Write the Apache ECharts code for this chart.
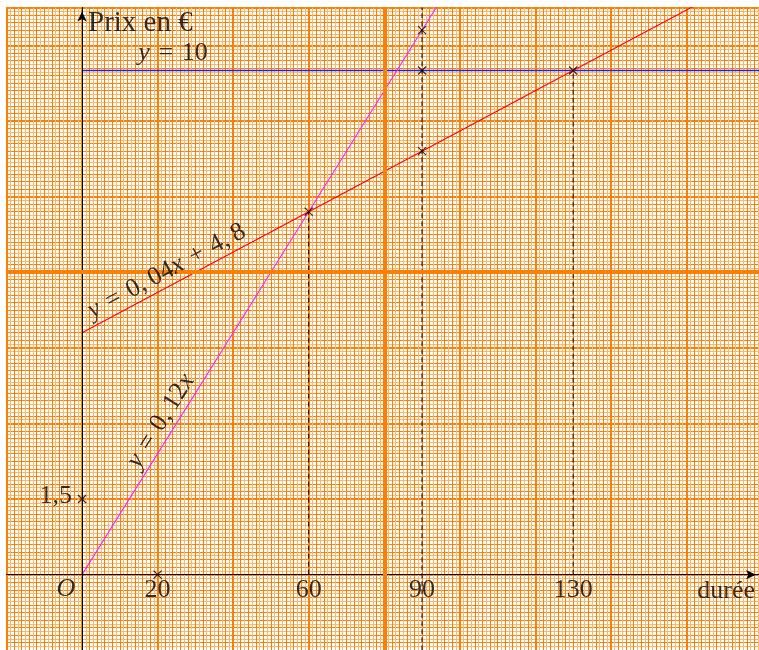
<!DOCTYPE html>
<html>
<head>
<meta charset="utf-8">
<script src="https://cdn.jsdelivr.net/npm/echarts@6/dist/echarts.min.js"></script>
<style>
  html, body { margin: 0; padding: 0; background: #fff; }
  #main { width: 759px; height: 650px; }
</style>
</head>
<body>
<div id="main"></div>
<script>
// durée (minutes) -> prix en euros
let dureesB = [0, 60, 90, 130, 180];
let tarifB = [4.8, 7.2, 8.4, 10, 12];       // y = 0,04x + 4,8
let dureesA = [0, 60, 90, 100];
let tarifA = [0, 7.2, 10.8, 12];            // y = 0,12x
let dureesC = [0, 180];
let tarifC = [10, 10];                      // y = 10

// points marqués (croix)
let pointsX = [60, 90, 90, 90, 130, 0, 20];
let pointsY = [7.2, 10.8, 10, 8.4, 10, 1.5, 0];

// pointillés verticaux : x, y bas, y haut
let pointillesX = [60, 90, 130];
let pointillesBas = [0, -1.5, 0];
let pointillesHaut = [7.2, 11.25, 10];

// graduations écrites
let xLabels = [20, 60, 90, 130];
let yLabels = [1.5];

let font = "Liberation Serif";
let fs = 26;
let sp = "\u2004"; // espace autour de = et +
let xMin = -20, xMax = 180, yMin = -1.5, yMax = 11.25;

let myChart = echarts.init(document.getElementById("main"));

function zip(a, b) {
  return a.map((v, i) => [v, b[i]]);
}

// axes cachés qui ne servent qu'au papier millimétré
function gridAxis(min, max, interval, color, width, minor) {
  let ax = {
    type: "value",
    min: min,
    max: max,
    interval: interval,
    z: 0,
    axisLine: { show: false },
    axisTick: { show: false },
    axisLabel: { show: false },
    splitLine: { show: true, lineStyle: { color: color, width: width } }
  };
  if (minor) {
    ax.minorTick = { show: false, splitNumber: 2 };
    ax.minorSplitLine = { show: true, lineStyle: { color: minor, width: 1 } };
  }
  return ax;
}

function mainAxis(min, max, offset) {
  return {
    type: "value",
    min: min,
    max: max,
    z: 4,
    axisLine: {
      show: true,
      onZero: true,
      onZeroAxisIndex: 0,
      symbol: ["none", "arrow"],
      symbolSize: [7, 10],
      symbolOffset: [0, offset],
      lineStyle: { color: "#000", width: 1 }
    },
    axisTick: { show: false },
    axisLabel: { show: false },
    splitLine: { show: false }
  };
}

let dashed = pointillesX.map((x, i) => ({
  type: "line",
  data: [[x, pointillesBas[i]], [x, pointillesHaut[i]]],
  symbol: "none",
  z: 3,
  silent: true,
  lineStyle: { color: "#000", width: 1, type: [5, 3] }
}));

let texts = [
  { value: [1.58, 10.93], label: { formatter: "Prix en €", align: "left", fontSize: 29 } },
  { value: [24.1, 10.34], label: { formatter: "{i|y}" + sp + "=" + sp + "10" } },
  { value: [170.5, -0.335], label: { formatter: "durée" } },
  { value: [-4.25, -0.28], label: { formatter: "{i|O}" } },
  {
    value: [22.4, 6.02],
    label: { formatter: "{i|y}" + sp + "=" + sp + "0,\u200904{i|x}" + sp + "+" + sp + "4,\u20098", rotate: 28.1 }
  },
  { value: [20.9, 3.05], label: { formatter: "{i|y}" + sp + "=" + sp + "0,\u200912{i|x}", rotate: 58 } }
];
xLabels.forEach(v => {
  texts.push({ value: [v, 0], label: { formatter: String(v), offset: [0, 16] } });
});
yLabels.forEach(v => {
  texts.push({
    value: [0, v],
    label: { formatter: String(v).replace(".", ","), align: "right", offset: [-10, -3] }
  });
});

let option = {
  animation: false,
  backgroundColor: "#fff",
  textStyle: { fontFamily: font, color: "#000" },
  grid: {
    left: 6.5,
    top: 7.5,
    width: 755.5,
    height: 642.75,
    outerBoundsMode: "none",
    show: false
  },
  xAxis: [
    mainAxis(xMin, xMax, -6),
    gridAxis(xMin, xMax, 2, "#ff8000", 1, "#ffb870"),
    gridAxis(xMin, xMax, 20, "#ff8000", 2)
  ],
  yAxis: [
    mainAxis(yMin, yMax, -4),
    gridAxis(yMin, yMax, 0.15, "#ff8000", 1, "#ffb870"),
    gridAxis(yMin, yMax, 1.5, "#ff8000", 2)
  ],
  series: [
    {
      // gros traits du papier
      type: "line",
      data: [],
      z: 1,
      silent: true,
      markLine: {
        silent: true,
        symbol: "none",
        label: { show: false },
        lineStyle: { color: "#ff8000", width: 4, type: "solid" },
        data: [{ xAxis: 80 }, { yAxis: 6 }]
      }
    },
    {
      type: "line",
      data: zip(dureesC, tarifC),
      symbol: "none",
      z: 3,
      lineStyle: { color: "#2020ff", width: 1.5 }
    },
    {
      type: "line",
      data: zip(dureesB, tarifB),
      symbol: "none",
      z: 3,
      lineStyle: { color: "#ff0000", width: 1.1 }
    },
    {
      type: "line",
      data: zip(dureesA, tarifA),
      symbol: "none",
      z: 3,
      lineStyle: { color: "#ff22ff", width: 1.1 }
    },
    ...dashed,
    {
      type: "scatter",
      data: zip(pointsX, pointsY),
      symbol: "path://M0,0L10,10M10,0L0,10",
      symbolSize: 8,
      z: 5,
      itemStyle: { color: "none", borderColor: "#000", borderWidth: 1.2 }
    },
    {
      // textes
      type: "scatter",
      symbolSize: 0,
      z: 6,
      silent: true,
      label: {
        show: true,
        position: "inside",
        fontFamily: font,
        fontSize: fs,
        color: "#000",
        align: "center",
        verticalAlign: "middle",
        rich: { i: { fontStyle: "italic", fontFamily: font, fontSize: fs } }
      },
      data: texts
    }
  ]
};

myChart.setOption(option);
</script>
</body>
</html>
